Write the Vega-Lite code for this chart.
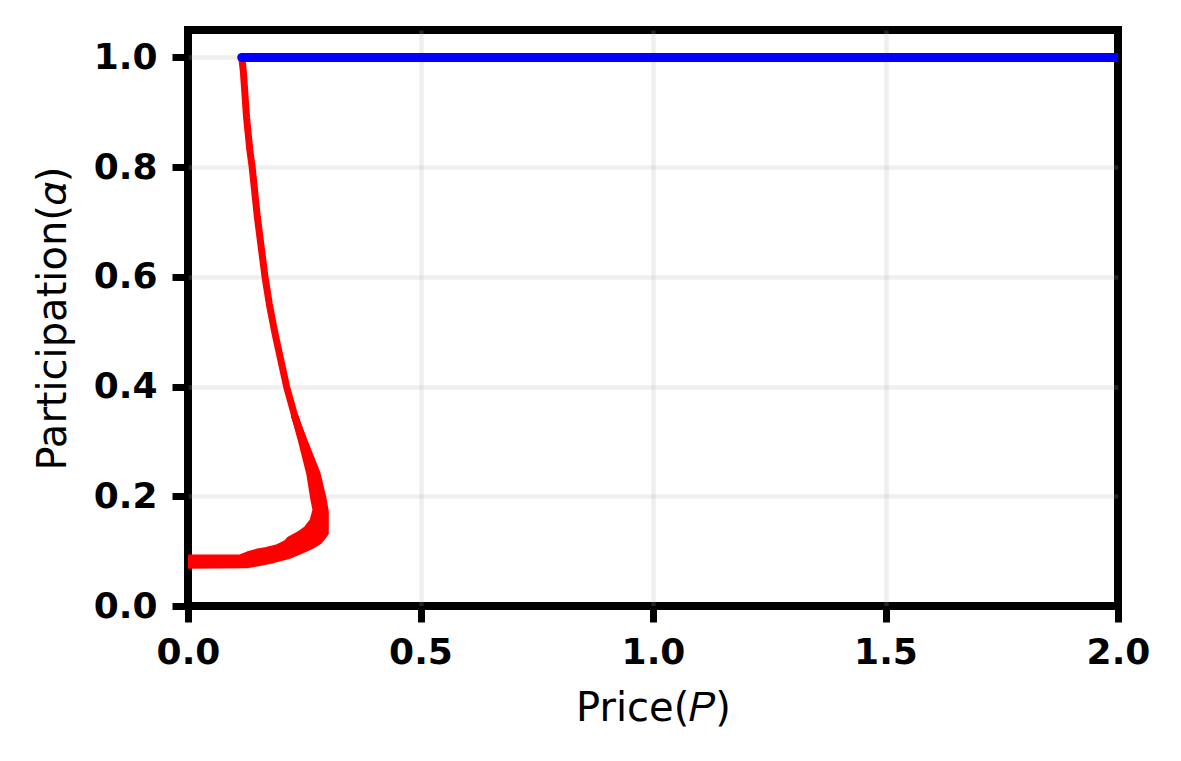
{
  "$schema": "https://vega.github.io/schema/vega-lite/v6.json",
  "width": 930,
  "height": 576,
  "autosize": {"type": "none"},
  "padding": {"left": 188, "top": 30, "right": 63, "bottom": 155},
  "background": "white",
  "config": {
    "view": {"stroke": "black", "strokeWidth": 8},
    "font": "DejaVu Sans",
    "axis": {
      "domain": false,
      "ticks": true,
      "tickColor": "black",
      "tickSize": 16,
      "tickWidth": 7,
      "labelFont": "DejaVu Sans",
      "labelFontSize": 36,
      "labelFontWeight": "bold",
      "labelColor": "black",
      "labelOverlap": false,
      "labelFlush": false,
      "titleFont": "DejaVu Sans",
      "titleFontSize": 40,
      "titleFontWeight": "normal",
      "titleColor": "black",
      "gridColor": "#b0b0b0",
      "gridWidth": 4.5
    }
  },
  "datasets": {
    "red": [
      {"s": "m", "i": 0, "P": 0.1155, "alpha": 1.0},
      {"s": "m", "i": 1, "P": 0.119, "alpha": 0.975},
      {"s": "m", "i": 2, "P": 0.126, "alpha": 0.89},
      {"s": "m", "i": 3, "P": 0.133, "alpha": 0.831},
      {"s": "m", "i": 4, "P": 0.138, "alpha": 0.8},
      {"s": "m", "i": 5, "P": 0.149, "alpha": 0.71},
      {"s": "m", "i": 6, "P": 0.1656, "alpha": 0.6},
      {"s": "m", "i": 7, "P": 0.175, "alpha": 0.55},
      {"s": "m", "i": 8, "P": 0.187, "alpha": 0.497},
      {"s": "m", "i": 9, "P": 0.212, "alpha": 0.4},
      {"s": "m", "i": 10, "P": 0.23, "alpha": 0.345},
      {"s": "m", "i": 11, "P": 0.2463, "alpha": 0.3026},
      {"s": "m", "i": 12, "P": 0.2695, "alpha": 0.2419},
      {"s": "m", "i": 13, "P": 0.2803, "alpha": 0.1963},
      {"s": "m", "i": 14, "P": 0.2853, "alpha": 0.1732},
      {"s": "m", "i": 15, "P": 0.2839, "alpha": 0.1476},
      {"s": "m", "i": 16, "P": 0.2731, "alpha": 0.1331},
      {"s": "m", "i": 17, "P": 0.2602, "alpha": 0.124},
      {"s": "m", "i": 18, "P": 0.243, "alpha": 0.1148},
      {"s": "m", "i": 19, "P": 0.2194, "alpha": 0.1057},
      {"s": "m", "i": 20, "P": 0.1935, "alpha": 0.0975},
      {"s": "m", "i": 21, "P": 0.1677, "alpha": 0.0921},
      {"s": "m", "i": 22, "P": 0.1477, "alpha": 0.088},
      {"s": "m", "i": 23, "P": 0.1297, "alpha": 0.0844},
      {"s": "m", "i": 24, "P": 0.1118, "alpha": 0.0811},
      {"s": "m", "i": 25, "P": 0.0, "alpha": 0.0808},
      {"s": "a", "i": 0, "P": 0.23, "alpha": 0.345},
      {"s": "a", "i": 1, "P": 0.2437, "alpha": 0.3026},
      {"s": "a", "i": 2, "P": 0.2617, "alpha": 0.2419},
      {"s": "a", "i": 3, "P": 0.2703, "alpha": 0.1963},
      {"s": "a", "i": 4, "P": 0.2753, "alpha": 0.175},
      {"s": "a", "i": 5, "P": 0.2688, "alpha": 0.1549},
      {"s": "a", "i": 6, "P": 0.2559, "alpha": 0.1404},
      {"s": "a", "i": 7, "P": 0.2409, "alpha": 0.1312},
      {"s": "a", "i": 8, "P": 0.2194, "alpha": 0.1212},
      {"s": "a", "i": 9, "P": 0.2123, "alpha": 0.1148},
      {"s": "a", "i": 10, "P": 0.1908, "alpha": 0.1057},
      {"s": "a", "i": 11, "P": 0.1692, "alpha": 0.1015},
      {"s": "a", "i": 12, "P": 0.1477, "alpha": 0.0979},
      {"s": "a", "i": 13, "P": 0.1297, "alpha": 0.0935},
      {"s": "a", "i": 14, "P": 0.1118, "alpha": 0.0875},
      {"s": "a", "i": 15, "P": 0.0, "alpha": 0.0875},
      {"s": "c", "i": 0, "P": 0.23, "alpha": 0.345},
      {"s": "c", "i": 1, "P": 0.245, "alpha": 0.3026},
      {"s": "c", "i": 2, "P": 0.2656, "alpha": 0.2419},
      {"s": "c", "i": 3, "P": 0.2753, "alpha": 0.1963},
      {"s": "c", "i": 4, "P": 0.2803, "alpha": 0.1741},
      {"s": "c", "i": 5, "P": 0.2764, "alpha": 0.1512},
      {"s": "c", "i": 6, "P": 0.2645, "alpha": 0.1368},
      {"s": "c", "i": 7, "P": 0.2506, "alpha": 0.1276},
      {"s": "c", "i": 8, "P": 0.2312, "alpha": 0.1180},
      {"s": "c", "i": 9, "P": 0.2159, "alpha": 0.1102},
      {"s": "c", "i": 10, "P": 0.1922, "alpha": 0.1016},
      {"s": "c", "i": 11, "P": 0.1685, "alpha": 0.0968},
      {"s": "c", "i": 12, "P": 0.1477, "alpha": 0.0930},
      {"s": "c", "i": 13, "P": 0.1297, "alpha": 0.0890},
      {"s": "c", "i": 14, "P": 0.1118, "alpha": 0.0843},
      {"s": "c", "i": 15, "P": 0.0, "alpha": 0.0842},
      {"s": "d", "i": 0, "P": 0.23, "alpha": 0.345},
      {"s": "d", "i": 1, "P": 0.2476, "alpha": 0.3026},
      {"s": "d", "i": 2, "P": 0.2735, "alpha": 0.2419},
      {"s": "d", "i": 3, "P": 0.2853, "alpha": 0.1963},
      {"s": "d", "i": 4, "P": 0.2903, "alpha": 0.1725},
      {"s": "d", "i": 5, "P": 0.2896, "alpha": 0.1404},
      {"s": "d", "i": 6, "P": 0.2817, "alpha": 0.1303},
      {"s": "d", "i": 7, "P": 0.271, "alpha": 0.1212},
      {"s": "d", "i": 8, "P": 0.2545, "alpha": 0.1125},
      {"s": "d", "i": 9, "P": 0.2309, "alpha": 0.1035},
      {"s": "d", "i": 10, "P": 0.2057, "alpha": 0.0950},
      {"s": "d", "i": 11, "P": 0.1752, "alpha": 0.0882},
      {"s": "d", "i": 12, "P": 0.1477, "alpha": 0.0832},
      {"s": "d", "i": 13, "P": 0.1297, "alpha": 0.0798},
      {"s": "d", "i": 14, "P": 0.0, "alpha": 0.0775},
      {"s": "b", "i": 0, "P": 0.23, "alpha": 0.345},
      {"s": "b", "i": 1, "P": 0.2488, "alpha": 0.3026},
      {"s": "b", "i": 2, "P": 0.2774, "alpha": 0.2419},
      {"s": "b", "i": 3, "P": 0.2903, "alpha": 0.1963},
      {"s": "b", "i": 4, "P": 0.2953, "alpha": 0.1719},
      {"s": "b", "i": 5, "P": 0.2953, "alpha": 0.1331},
      {"s": "b", "i": 6, "P": 0.2903, "alpha": 0.1276},
      {"s": "b", "i": 7, "P": 0.2817, "alpha": 0.1185},
      {"s": "b", "i": 8, "P": 0.266, "alpha": 0.1103},
      {"s": "b", "i": 9, "P": 0.2424, "alpha": 0.1012},
      {"s": "b", "i": 10, "P": 0.2178, "alpha": 0.0924},
      {"s": "b", "i": 11, "P": 0.1828, "alpha": 0.0844},
      {"s": "b", "i": 12, "P": 0.1477, "alpha": 0.0784},
      {"s": "b", "i": 13, "P": 0.1297, "alpha": 0.0753},
      {"s": "b", "i": 14, "P": 0.0, "alpha": 0.0742}
    ],
    "blue": [
      {"i": 0, "P": 0.1155, "alpha": 1.0},
      {"i": 1, "P": 0.5, "alpha": 1.0},
      {"i": 2, "P": 1.0, "alpha": 1.0},
      {"i": 3, "P": 1.5, "alpha": 1.0},
      {"i": 4, "P": 2.0, "alpha": 1.0}
    ]
  },
  "layer": [
    {
      "data": {"name": "red"},
      "mark": {"type": "line", "color": "#ff0000", "strokeWidth": 7, "strokeCap": "round", "strokeJoin": "round", "clip": true},
      "encoding": {
        "x": {
          "field": "P", "type": "quantitative",
          "scale": {"domain": [0, 2], "nice": false, "zero": false},
          "axis": {
            "values": [0, 0.5, 1, 1.5, 2], "format": ".1f", "title": "Price(𝑃)", "labelPadding": 13, "titlePadding": 18,
            "gridOpacity": {"condition": {"test": "datum.value <= 0 || datum.value >= 2", "value": 0}, "value": 0.2}
          }
        },
        "y": {
          "field": "alpha", "type": "quantitative",
          "scale": {"domain": [0, 1.05], "nice": false, "zero": false},
          "axis": {
            "values": [0, 0.2, 0.4, 0.6, 0.8, 1.0], "format": ".1f", "title": "Participation(𝛼)", "labelPadding": 15, "titlePadding": 20,
            "gridOpacity": {"condition": {"test": "datum.value <= 0", "value": 0}, "value": 0.2}
          }
        },
        "detail": {"field": "s", "type": "nominal"},
        "order": {"field": "i", "type": "quantitative"}
      }
    },
    {
      "data": {"name": "blue"},
      "mark": {"type": "line", "color": "#0000ff", "strokeWidth": 9, "strokeCap": "round", "clip": true},
      "encoding": {
        "x": {"field": "P", "type": "quantitative"},
        "y": {"field": "alpha", "type": "quantitative"},
        "order": {"field": "i", "type": "quantitative"}
      }
    }
  ]
}
